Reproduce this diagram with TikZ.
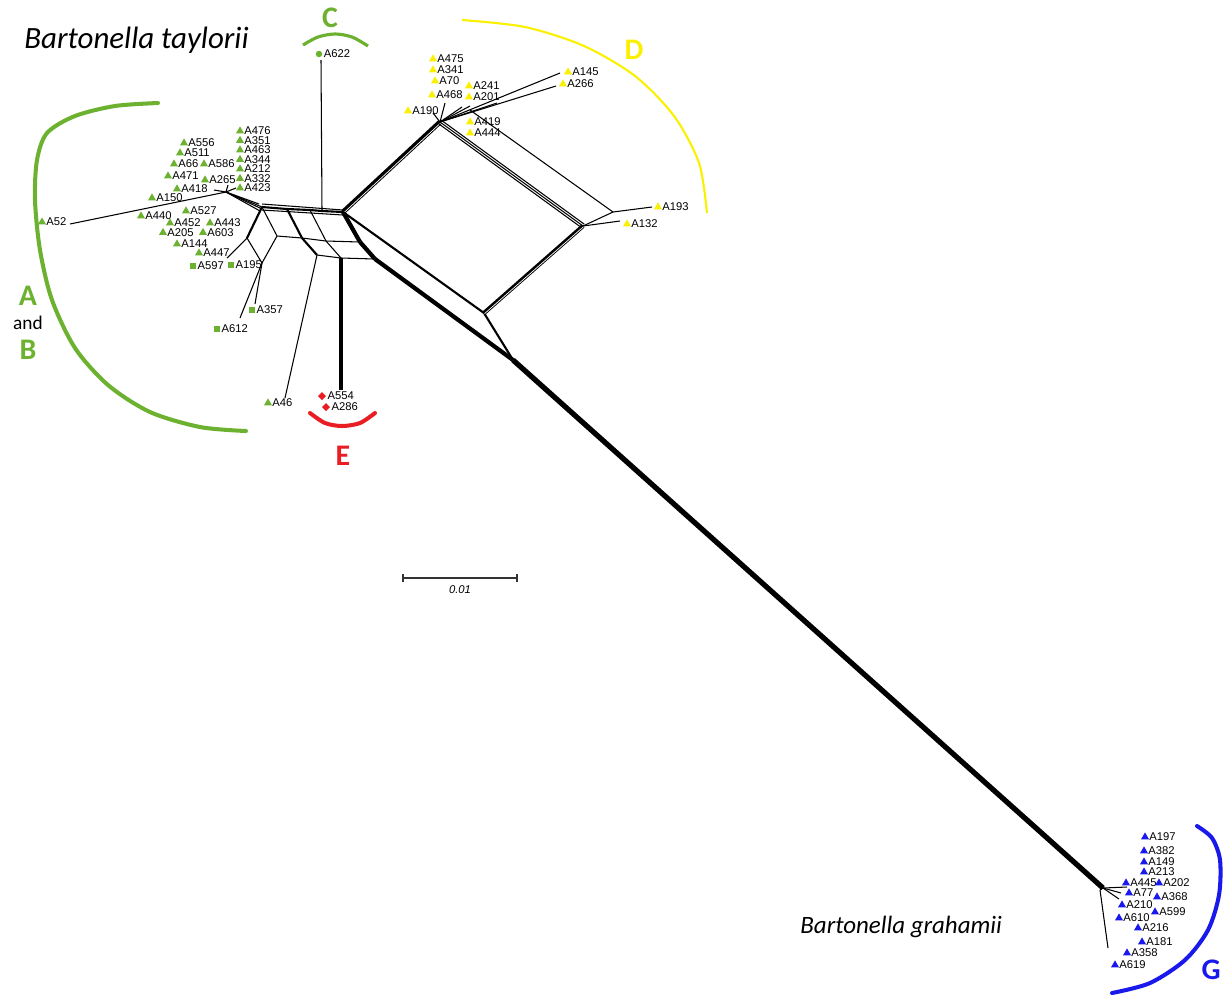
\documentclass[tikz,border=0pt]{standalone}
\usepackage{fontspec}
\setmainfont{Carlito}
\newfontfamily\labfont{Liberation Sans}
\usetikzlibrary{shapes.geometric}
\definecolor{grn}{RGB}{108,178,48}
\definecolor{ylw}{RGB}{250,240,0}
\definecolor{rd}{RGB}{232,30,36}
\definecolor{blu}{RGB}{25,25,235}
\tikzset{
  lab/.style={font=\labfont\fontsize{6.4}{7.5}\selectfont, inner sep=0.1pt, outer sep=0pt},
  lbl/.style={label={[lab, label distance=0.8pt]east:#1}},
  mk/.style={inner sep=0pt, outer sep=0pt},
  tri/.style={mk, regular polygon, regular polygon sides=3, minimum size=0.185cm, fill=#1},
  sq/.style={mk, rectangle, minimum size=0.12cm, fill=#1},
  dot/.style={mk, circle, minimum size=0.13cm, fill=#1},
  dia/.style={mk, diamond, minimum size=0.16cm, fill=#1},
  net/.style={line width=0.6pt, black},
  netm/.style={line width=1.2pt, black},
  netb/.style={line width=2.4pt, black},
  grp/.style={font=\bfseries\fontsize{17}{20}\selectfont},
  arcline/.style={line width=2.3pt, line cap=round},
}
\begin{document}
\begin{tikzpicture}[x=0.02cm,y=-0.02cm]
\useasboundingbox (0,0) rectangle (1226,995);

% ---------- network coordinates ----------
\coordinate (HA) at (226,192);
\coordinate (T1) at (262,207);
\coordinate (T2) at (287,209);
\coordinate (T3) at (310,210);
\coordinate (T4) at (322,211);
\coordinate (R0) at (343,212);
\coordinate (B1) at (277,236);
\coordinate (B2) at (302,238);
\coordinate (B3) at (326,241);
\coordinate (R1) at (360,242);
\coordinate (C1) at (317,255);
\coordinate (C2) at (341,258);
\coordinate (R2) at (375,259);
\coordinate (W1) at (247,238);
\coordinate (Q) at (262,263);
\coordinate (DH) at (440,122);
\coordinate (DH2) at (470,110);
\coordinate (BB) at (484,313);
\coordinate (BL) at (513,360);
\coordinate (RV) at (583,226);
\coordinate (RV2) at (613,212);
\coordinate (GH) at (1103,888);
% leaf ends
\coordinate (eA52) at (70,224);
\coordinate (eA622) at (321,60);
\coordinate (eA46) at (285,398);
\coordinate (eE) at (341,390);
\coordinate (eA357) at (255,304);
\coordinate (eA612) at (240,318);
\coordinate (eA195) at (227,258);
\coordinate (eA193) at (652,207);
\coordinate (eA132) at (620,221);
\coordinate (eA145) at (560,73);
\coordinate (eA266) at (556,86);
\coordinate (eA190) at (433,113);
\coordinate (eA468) at (445,103);
\coordinate (eA241) at (462,107);
\coordinate (eA201) at (470,106);
\coordinate (eD5) at (497,103);
\coordinate (eH1) at (214,190);
\coordinate (eH2) at (228,185);
\coordinate (eH3) at (236,188);
\coordinate (eG1) at (1127,887);
\coordinate (eG2) at (1121,893);
\coordinate (eG3) at (1119,899);
\coordinate (eG4) at (1108,948);
\coordinate (eG5) at (1100,890);

% ---------- network edges ----------
% A hub
\draw[net] (HA) -- (eA52);
\draw[net] (HA) -- (eH1);
\draw[net] (HA) -- (eH2);
\draw[net] (HA) -- (eH3);
\draw[net] (HA) -- ([shift={(-3,-3)}]T1);
\draw[net] (HA) -- (T1);
\draw[net] (HA) -- ([shift={(-2,4)}]T1);
\draw[net] (HA) -- ([shift={(0,2)}]T1);
% top bundle
\draw[netm] (T1) -- (T2) -- (T3) -- (T4) -- (R0);
\draw[net] ([shift={(0,-3)}]T1) -- ([shift={(0,-2)}]R0);
\draw[net] ([shift={(0,3)}]T1) -- ([shift={(0,3)}]R0);
% ladder
\draw[net] (T1) -- (B1);
\draw[netm] (T2) -- (B2);
\draw[net] (T3) -- (B3);
\draw[netb] (R0) -- (R1);
\draw[net] (B1) -- (B2) -- (B3) -- (R1);
\draw[netm] (B2) -- (C1);
\draw[net] (B3) -- (C2);
\draw[netb] (R1) -- (R2);
\draw[net] (C1) -- (C2) -- (R2);
% lower left
\draw[netm] (T1) -- (W1);
\draw[net] (W1) -- (Q);
\draw[net] (B1) -- (Q);
\draw[net] (W1) -- (eA195);
\draw[net] (Q) -- (eA357);
\draw[net] (Q) -- (eA612);
\draw[net] (C1) -- (eA46);
\draw[line width=1.9pt] (C2) -- (eE);
\draw[net] (T4) -- (eA622);
% big box
\draw[line width=2.8pt] (R0) -- (DH);
\draw[white, line width=0.4pt] ([shift={(0.8,0.8)}]R0) -- ([shift={(0.8,0.8)}]DH);
\draw[netm] (R0) -- (BB);
\draw[netb] (R2) -- (BL);
\draw[netm] (BB) -- (BL);
\draw[netb] (BB) -- (RV);
\draw[white, line width=0.4pt] ([shift={(0.6,0.6)}]BB) -- ([shift={(0.6,0.6)}]RV);
\draw[net] (DH) -- (RV);
\draw[net] ([shift={(-1.3,1.8)}]DH) -- ([shift={(-1.3,1.8)}]RV);
\draw[net] ([shift={(1.3,-1.8)}]DH) -- ([shift={(1.3,-1.8)}]RV);
\draw[net] (DH2) -- (RV2);
\draw[net] (RV2) -- (RV);
\draw[net] (RV2) -- (eA193);
\draw[net] (RV) -- (eA132);
% D hub fan
\draw[net] (DH) -- (eA145);
\draw[net] (DH) -- (eA266);
\draw[net] (DH) -- (eA190);
\draw[net] (DH) -- (eA468);
\draw[net] (DH) -- (eA241);
\draw[net] (DH) -- (eA201);
\draw[net] (DH) -- (eD5);
% main branch
\draw[line width=3pt] (BL) -- (GH);
% G hub
\draw[net] (GH) -- (eG1);
\draw[net] (GH) -- (eG2);
\draw[net] (GH) -- (eG3);
\draw[net] (GH) -- (eG5);
\draw[net] (eG5) -- (eG4);

% ---------- leaves ----------
\foreach \n/\x/\y in {A476/240/131, A351/240/140.5, A463/240/150, A344/240/159.5, A212/240/169, A332/240/178.5, A423/240/188, A556/184/143, A511/180/153, A66/174/164, A586/204/164, A471/168/176, A265/205/180, A418/177/189, A150/152/198, A527/186/211, A440/141/216, A452/170/223, A443/210/223, A205/163/232.5, A603/203/232.5, A144/177/244, A447/199/253, A46/268/403, A52/42/222}
  \node[tri=grn, lbl=\n] (\n) at (\x,\y) {};
\foreach \n/\x/\y in {A597/193/266, A195/231/265, A357/252/310, A612/217/329}
  \node[sq=grn, lbl=\n] (\n) at (\x,\y) {};
\node[dot=grn, lbl=A622] (A622) at (319,54) {};
\foreach \n/\x/\y in {A475/433/59, A341/433/70, A70/435/81, A241/469/86, A468/432/95, A201/469/97, A190/408/111, A419/470/122, A444/470/133, A145/568/72, A266/563/84, A193/658/207, A132/627/224}
  \node[tri=ylw, lbl=\n] (\n) at (\x,\y) {};
\node[dia=rd, lbl=A554] (A554) at (322,396) {};
\node[dia=rd, lbl=A286] (A286) at (326,407) {};
\foreach \n/\x/\y in {A197/1145/837, A382/1144/851, A149/1144/862, A213/1144/872, A445/1126/883, A202/1159/883, A77/1129/893, A368/1157/897, A210/1122/905, A599/1155/912, A610/1119/918, A216/1138/928, A181/1142/942, A358/1127/953, A619/1115/965}
  \node[tri=blu, lbl=\n] (\n) at (\x,\y) {};

% ---------- group arcs ----------
\draw[arcline, grn] plot[smooth] coordinates {(158,103) (115,106) (75,116) (47,133) (37,160) (35,200) (40,250) (52,300) (75,348) (108,385) (150,412) (200,427) (246,431)};
\draw[line width=1.8pt, grn] plot[smooth] coordinates {(303,45) (318,37) (335,34) (352,37) (368,46)};
\draw[line width=1.2pt, ylw] plot[smooth] coordinates {(462,20) (525,27) (584,46) (635,76) (674,116) (699,163) (707,213)};
\draw[arcline, rd] plot[smooth] coordinates {(310,413) (325,423) (342,426) (360,423) (375,413)};
\draw[arcline, blu] plot[smooth] coordinates {(1197,826) (1212,838) (1220,860) (1219,895) (1208,930) (1185,960) (1150,983) (1112,993)};

% ---------- group letters ----------
\node[grp, grn] (lA) at (28,296) {A};
\node[font=\fontsize{11}{13}\selectfont] (land) at (28,323) {and};
\node[grp, grn] (lB) at (28,350) {B};
\node[grp, grn] (lC) at (330,18) {C};
\node[grp, ylw] (lD) at (634,50) {D};
\node[grp, rd] (lE) at (343,456) {E};
\node[grp, blu] (lG) at (1211,970) {G};

% ---------- titles ----------
\node[anchor=west, font=\itshape\fontsize{17.6}{20}\selectfont, inner sep=0pt] (t1) at (24,40) {Bartonella taylorii};
\node[anchor=west, font=\itshape\fontsize{14.2}{17}\selectfont, inner sep=0pt] (t2) at (800,927) {Bartonella grahamii};

% ---------- scale bar ----------
\coordinate (sb1) at (403,578);
\coordinate (sb2) at (517,578);
\draw[line width=0.6pt, black!80] (sb1) -- (sb2);
\draw[line width=0.6pt, black!80] ([shift={(0,-4)}]sb1) -- ([shift={(0,4)}]sb1);
\draw[line width=0.6pt, black!80] ([shift={(0,-4)}]sb2) -- ([shift={(0,4)}]sb2);
\node[font=\labfont\itshape\fontsize{6.4}{7.5}\selectfont] (sbl) at (460,590) {0.01};
\end{tikzpicture}
\end{document}
